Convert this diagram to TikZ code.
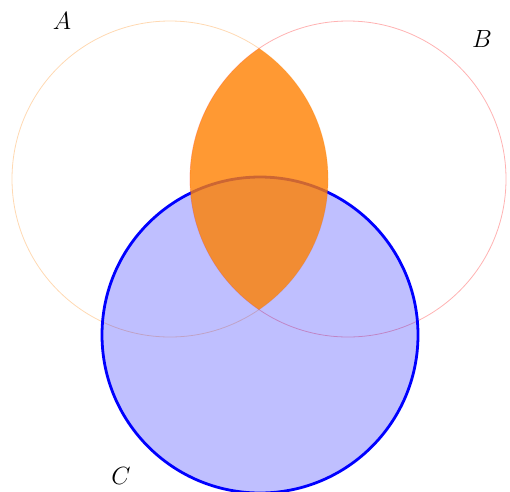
\documentclass[tikz,border=0pt]{standalone}
\usepackage{tikz}
\begin{document}
\begin{tikzpicture}[x=1pt,y=-1pt,
  lbl/.style={font=\fontsize{24}{28}\selectfont, inner sep=0pt}]
\useasboundingbox (0,0) rectangle (510,491);
\coordinate (ca) at (170,179);
\coordinate (cb) at (348,179);
\coordinate (cc) at (260,335);
% A and B outlines
\draw[orange, draw opacity=0.3, line width=0.8pt] (ca) circle (158);
\draw[red, draw opacity=0.3, line width=0.8pt] (cb) circle (158);
% C
\fill[blue, fill opacity=0.25] (cc) circle (158);
\draw[blue, line width=2.8pt] (cc) circle (158);
% lens
\begin{scope}
  \clip (ca) circle (158);
  \fill[orange, fill opacity=0.8] (cb) circle (158);
\end{scope}
\node[lbl] (la) at (62,21) {$A$};
\node[lbl] (lb) at (482,39) {$B$};
\node[lbl] (lc) at (121,476) {$C$};
\end{tikzpicture}
\end{document}
